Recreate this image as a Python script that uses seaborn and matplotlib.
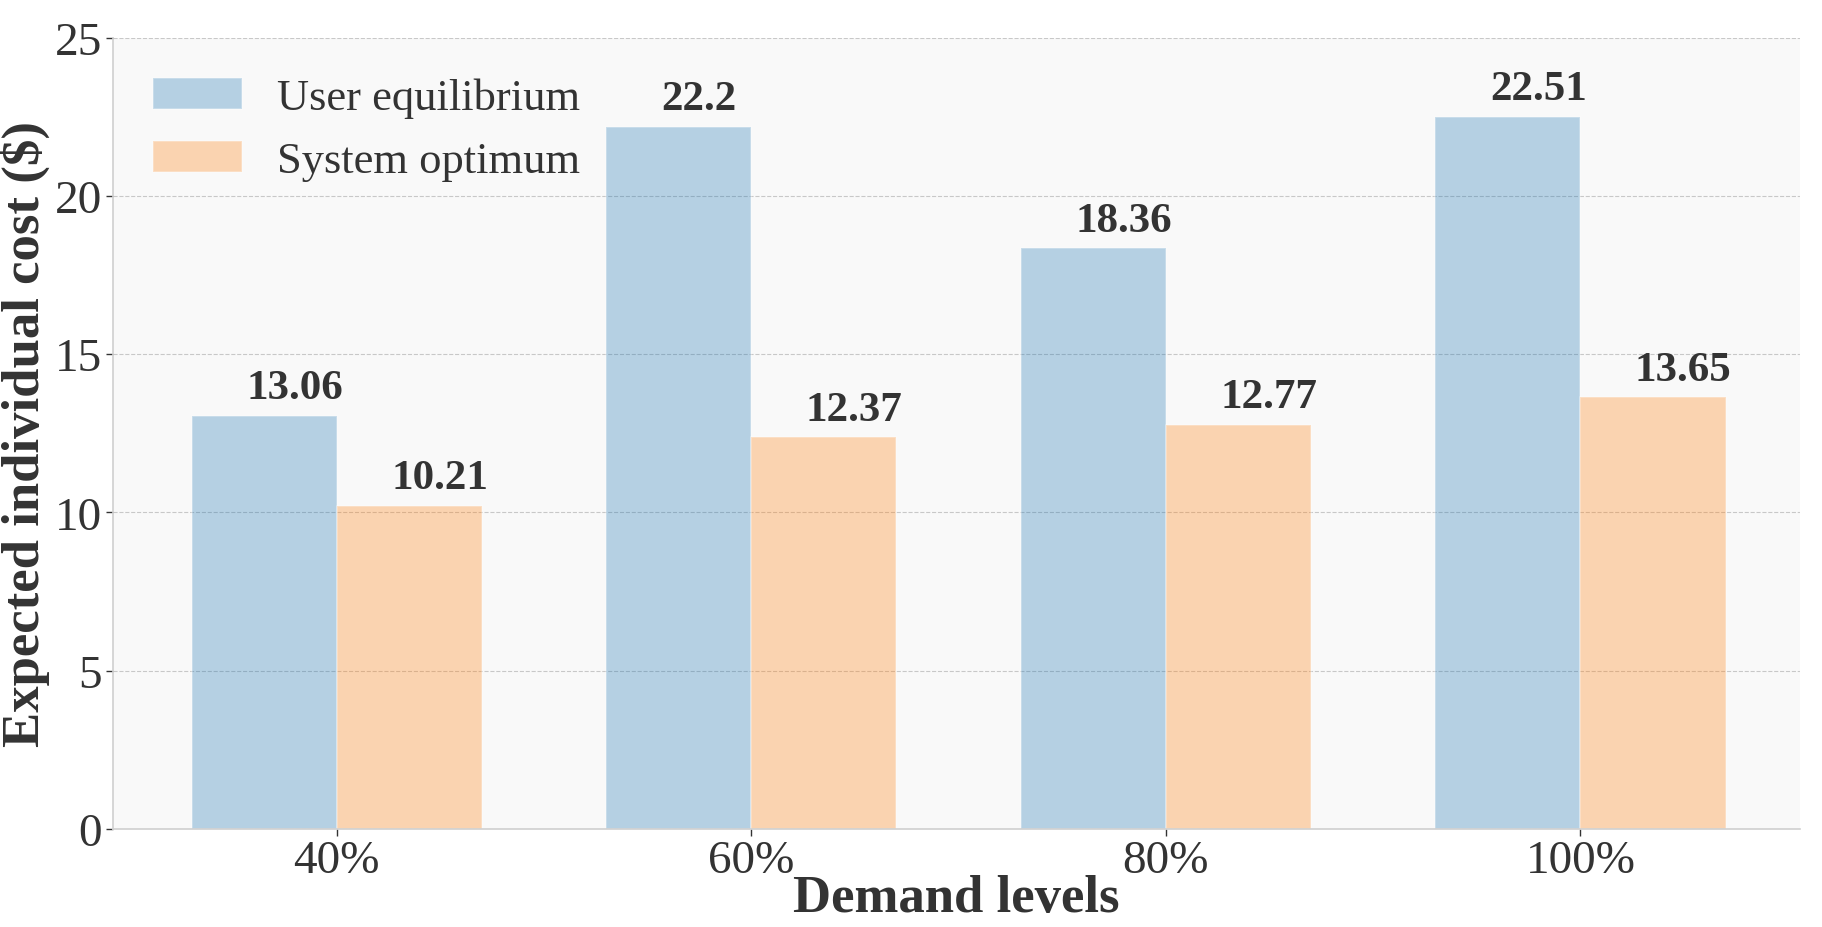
import numpy as np
import pandas as pd
import matplotlib
matplotlib.use("Agg")
import matplotlib.pyplot as plt
import seaborn as sns

# Chart data
demand_levels = ["40%", "60%", "80%", "100%"]
user_equilibrium = [13.06, 22.2, 18.36, 22.51]
system_optimum = [10.21, 12.37, 12.77, 13.65]
series_names = ["User equilibrium", "System optimum"]
y_ticks = [0, 5, 10, 15, 20, 25]


def main():
    df = pd.DataFrame({
        "Demand": demand_levels * 2,
        "Cost": user_equilibrium + system_optimum,
        "Scenario": [series_names[0]] * len(demand_levels) + [series_names[1]] * len(demand_levels),
    })

    sns.set_theme(style="white")
    plt.rcParams.update({
        "font.family": ["Liberation Serif", "DejaVu Serif"],
        "axes.facecolor": "#f9f9f9",
        "axes.edgecolor": "#d0d0d0",
        "text.color": "#333333",
        "axes.labelcolor": "#333333",
        "xtick.color": "#333333",
        "ytick.color": "#333333",
    })

    fig, ax = plt.subplots(figsize=(18.22, 9.28), dpi=100)
    palette = {series_names[0]: "#1f77b4", series_names[1]: "#ff7f0e"}
    sns.barplot(data=df, x="Demand", y="Cost", hue="Scenario", order=demand_levels,
                hue_order=series_names, palette=palette, width=0.7, alpha=0.31,
                edgecolor="white", linewidth=1.2, saturation=1, ax=ax)

    # value labels on the bars
    for container in ax.containers:
        for bar in container:
            h = bar.get_height()
            ax.annotate(f"{h:g}", (bar.get_x() + bar.get_width() / 2, h),
                        xytext=(-13, 6), textcoords="offset points",
                        ha="left", va="bottom", fontsize=31, fontweight="bold",
                        color="#333333")

    ax.set_ylim(0, 25)
    ax.set_xlim(-0.54, 3.53)
    ax.set_yticks(y_ticks)
    ax.yaxis.grid(True, linestyle="--", color="#c8c8c8", linewidth=0.8)
    ax.set_axisbelow(True)
    sns.despine(ax=ax, top=True, right=True)
    ax.spines["left"].set_linewidth(1.2)
    ax.spines["bottom"].set_linewidth(1.2)
    ax.tick_params(axis="both", which="major", labelsize=34, length=5, width=1,
                   direction="out", left=True, bottom=True, pad=3)

    ax.set_xlabel("Demand levels", fontsize=38, fontweight="bold", labelpad=-6)
    ax.set_ylabel("Expected individual cost ($)", fontsize=38, fontweight="bold", labelpad=3)

    handles, labels = ax.get_legend_handles_labels()
    ax.legend(handles, labels, loc="upper left", frameon=False, fontsize=32,
              handlelength=2.0, handleheight=0.7, handletextpad=0.8, labelspacing=0.5)

    fig.subplots_adjust(left=0.062, right=0.988, top=0.958, bottom=0.106)
    fig.savefig("out.png", dpi=100)
    plt.close(fig)


if __name__ == "__main__":
    main()
